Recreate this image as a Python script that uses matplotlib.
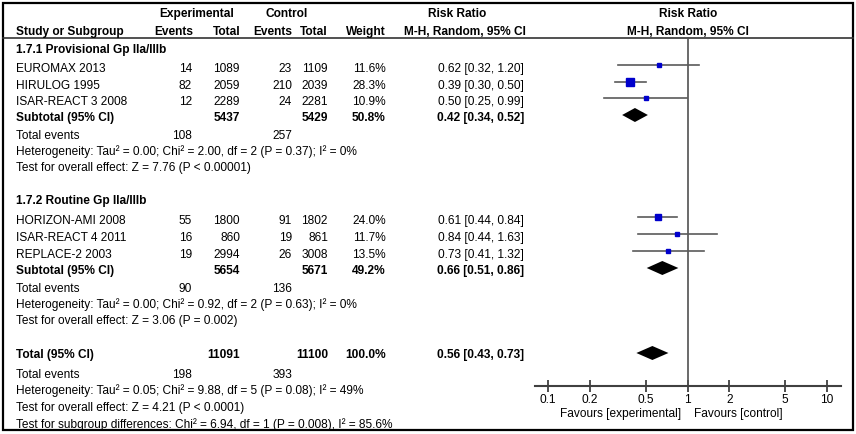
import numpy as np
import matplotlib.pyplot as plt
from matplotlib.patches import Rectangle

plt.rcParams['font.family'] = ['Liberation Sans', 'DejaVu Sans']
plt.rcParams['font.size'] = 8.6

# studies
study = ["EUROMAX 2013", "HIRULOG 1995", "ISAR-REACT 3 2008",
         "HORIZON-AMI 2008", "ISAR-REACT 4 2011", "REPLACE-2 2003"]
grp = [0, 0, 0, 1, 1, 1]
exp_events = [14, 82, 12, 55, 16, 19]
exp_total = [1089, 2059, 2289, 1800, 860, 2994]
ctl_events = [23, 210, 24, 91, 19, 26]
ctl_total = [1109, 2039, 2281, 1802, 861, 3008]
weight = [11.6, 28.3, 10.9, 24.0, 11.7, 13.5]
rr = [0.62, 0.39, 0.50, 0.61, 0.84, 0.73]
rr_lo = [0.32, 0.30, 0.25, 0.44, 0.44, 0.41]
rr_hi = [1.20, 0.50, 0.99, 0.84, 1.63, 1.32]

# subgroups
sub_name = ["1.7.1 Provisional Gp IIa/IIIb", "1.7.2 Routine Gp IIa/IIIb"]
sub_exp_total = [5437, 5654]
sub_ctl_total = [5429, 5671]
sub_weight = [50.8, 49.2]
sub_rr = [0.42, 0.66]
sub_lo = [0.34, 0.51]
sub_hi = [0.52, 0.86]
sub_exp_events = [108, 90]
sub_ctl_events = [257, 136]
sub_het = ["Heterogeneity: Tau² = 0.00; Chi² = 2.00, df = 2 (P = 0.37); I² = 0%",
           "Heterogeneity: Tau² = 0.00; Chi² = 0.92, df = 2 (P = 0.63); I² = 0%"]
sub_test = ["Test for overall effect: Z = 7.76 (P < 0.00001)",
            "Test for overall effect: Z = 3.06 (P = 0.002)"]

# overall
tot_exp_total, tot_ctl_total, tot_weight = 11091, 11100, 100.0
tot_rr, tot_lo, tot_hi = 0.56, 0.43, 0.73
tot_exp_events, tot_ctl_events = 198, 393
tot_het = "Heterogeneity: Tau² = 0.05; Chi² = 9.88, df = 5 (P = 0.08); I² = 49%"
tot_test = "Test for overall effect: Z = 4.21 (P < 0.0001)"
sub_diff = "Test for subgroup differences: Chi² = 6.94, df = 1 (P = 0.008), I² = 85.6%"

ticks = [0.1, 0.2, 0.5, 1, 2, 5, 10]
tick_labels = ["0.1", "0.2", "0.5", "1", "2", "5", "10"]

# layout (pixel rows, top = 0)
W, H = 856, 434
grp_y = [50, 201]
study_y = [69, 86, 102, 221, 238, 255]
subtot_y = [118, 271]
events_y = [136, 289]
het_y = [152, 305]
test_y = [168, 321]
total_y = 355
tot_rows = [375, 391, 408, 425]
axis_y = 386

c_name, c_ee, c_et, c_ce, c_ct, c_w, c_rr = 16, 192, 240, 292, 328, 386, 524

fig = plt.figure(figsize=(W / 100, H / 100), dpi=100)
tab = fig.add_axes([0, 0, 1, 1])
tab.set_xlim(0, W)
tab.set_ylim(H, 0)
tab.axis('off')

tab.add_patch(Rectangle((3, 3), 850, 427, fill=False, ec='black', lw=1.6))
tab.plot([3, 853], [38, 38], color='#333333', lw=1.2)


def t(x, y, s, ha='left', bold=False):
    tab.text(x, y, s, ha=ha, va='center', fontweight='bold' if bold else 'normal')


# header
t(197, 14, "Experimental", 'center', True)
t(287, 14, "Control", 'center', True)
t(457, 14, "Risk Ratio", 'center', True)
t(688, 14, "Risk Ratio", 'center', True)
t(c_name, 32, "Study or Subgroup", bold=True)
t(c_ee + 1, 32, "Events", 'right', True)
t(c_et + 1, 32, "Total", 'right', True)
t(c_ce, 32, "Events", 'right', True)
t(c_ct, 32, "Total", 'right', True)
t(c_w, 32, "Weight", 'right', True)
t(465, 32, "M-H, Random, 95% CI", 'center', True)
t(688, 32, "M-H, Random, 95% CI", 'center', True)

for i in range(len(study)):
    y = study_y[i]
    t(c_name, y, study[i])
    t(c_ee, y, str(exp_events[i]), 'right')
    t(c_et, y, str(exp_total[i]), 'right')
    t(c_ce, y, str(ctl_events[i]), 'right')
    t(c_ct, y, str(ctl_total[i]), 'right')
    t(c_w, y, "%.1f%%" % weight[i], 'right')
    t(c_rr, y, "%.2f [%.2f, %.2f]" % (rr[i], rr_lo[i], rr_hi[i]), 'right')

for g in range(2):
    t(c_name, grp_y[g], sub_name[g], bold=True)
    y = subtot_y[g]
    t(c_name, y, "Subtotal (95% CI)", bold=True)
    t(c_et, y, str(sub_exp_total[g]), 'right', True)
    t(c_ct, y, str(sub_ctl_total[g]), 'right', True)
    t(c_w, y, "%.1f%%" % sub_weight[g], 'right', True)
    t(c_rr, y, "%.2f [%.2f, %.2f]" % (sub_rr[g], sub_lo[g], sub_hi[g]), 'right', True)
    t(c_name, events_y[g], "Total events")
    t(c_ee, events_y[g], str(sub_exp_events[g]), 'right')
    t(c_ce, events_y[g], str(sub_ctl_events[g]), 'right')
    t(c_name, het_y[g], sub_het[g])
    t(c_name, test_y[g], sub_test[g])

t(c_name, total_y, "Total (95% CI)", bold=True)
t(c_et, total_y, str(tot_exp_total), 'right', True)
t(c_ct, total_y, str(tot_ctl_total), 'right', True)
t(c_w, total_y, "%.1f%%" % tot_weight, 'right', True)
t(c_rr, total_y, "%.2f [%.2f, %.2f]" % (tot_rr, tot_lo, tot_hi), 'right', True)
t(c_name, tot_rows[0], "Total events")
t(c_ee, tot_rows[0], str(tot_exp_events), 'right')
t(c_ce, tot_rows[0], str(tot_ctl_events), 'right')
t(c_name, tot_rows[1], tot_het)
t(c_name, tot_rows[2], tot_test)
t(c_name, tot_rows[3], sub_diff)

# forest panel
x0, x1 = 535, 841
dec = 139.5
fx = fig.add_axes([x0 / W, 0, (x1 - x0) / W, 1])
fx.set_xscale('log')
fx.set_xlim(10 ** ((x0 - 687.5) / dec), 10 ** ((x1 - 687.5) / dec))
fx.set_ylim(H, 0)
fx.patch.set_visible(False)
for s in ['top', 'left', 'right']:
    fx.spines[s].set_visible(False)
fx.spines['bottom'].set_position(('data', axis_y))
fx.spines['bottom'].set_color('#404040')
fx.spines['bottom'].set_linewidth(1.5)
fx.set_yticks([])
fx.set_xticks(ticks)
fx.set_xticklabels(tick_labels)
fx.minorticks_off()
fx.tick_params(axis='x', direction='inout', length=8, width=1.3,
               color='#404040', pad=2, labelsize=8.6)

fx.plot([1, 1], [38, axis_y], color='#505050', lw=1.2, clip_on=False)

for i in range(len(study)):
    y = study_y[i] - 4
    fx.plot([rr_lo[i], rr_hi[i]], [y, y], color='#5a5a5a', lw=1.2, clip_on=False)
    side = 1.35 * np.sqrt(weight[i])
    fx.plot(rr[i], y, marker='s', ms=side * 0.72, color='#0000cc', mec='#0000cc',
            clip_on=False)


def diamond(lo, mid, hi, y):
    fx.fill([lo, mid, hi, mid], [y, y - 7, y, y + 7], color='black', lw=0,
            clip_on=False)


for g in range(2):
    diamond(sub_lo[g], sub_rr[g], sub_hi[g], subtot_y[g] - 3)
diamond(tot_lo, tot_rr, tot_hi, total_y - 2)

fx.text(0.9, 414, "Favours [experimental]", ha='right', va='center')
fx.text(1.11, 414, "Favours [control]", ha='left', va='center')

fig.savefig("out.png", dpi=100)
